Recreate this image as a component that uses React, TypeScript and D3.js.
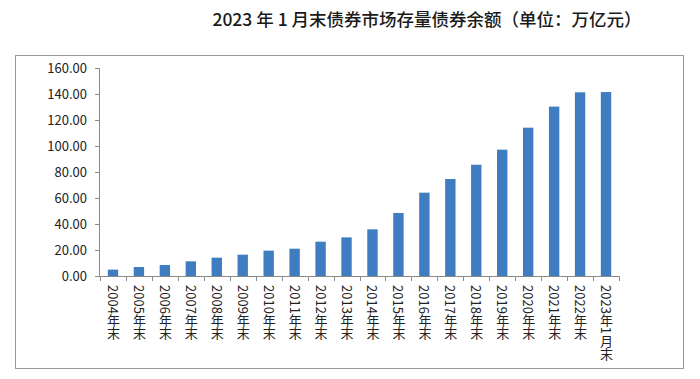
import React from "react";
import * as d3 from "d3";

const categories = ["2004年末","2005年末","2006年末","2007年末","2008年末","2009年末","2010年末","2011年末","2012年末","2013年末","2014年末","2015年末","2016年末","2017年末","2018年末","2019年末","2020年末","2021年末","2022年末","2023年1月末"];
const values = [4.9, 6.9, 8.5, 11.3, 14.1, 16.4, 19.5, 21.0, 26.4, 29.7, 35.9, 48.5, 64.1, 74.6, 85.6, 97.2, 114.1, 130.3, 141.3, 141.5];
const yTicks = [0, 20, 40, 60, 80, 100, 120, 140, 160];
const title = "2023 年 1 月末债券市场存量债券余额（单位：万亿元）";

export default function App() {
  const W = 700, H = 379;
  const x0 = 100, x1 = 619, y0 = 276, y1 = 68;
  const x = d3.scaleBand<string>().domain(categories).range([x0, x1]).paddingInner(0.6).paddingOuter(0.3);
  const xb = d3.scaleBand<string>().domain(categories).range([x0, x1]);
  const y = d3.scaleLinear().domain([0, 160]).range([y0, y1]);
  const axisColor = "#8a8a8a";
  const font = "'Noto Sans CJK SC', 'Noto Sans', sans-serif";
  return (
    <svg width={W} height={H} style={{ position: "absolute", left: 0, top: 0, background: "#fff" }}>
      <rect x={0} y={0} width={W} height={H} fill="#fff" />
      <text x={427} y={26} textAnchor="middle" fontSize={17.5} fontWeight={500} fontFamily={font} fill="#1a1a1a">{title}</text>
      <rect x={15.5} y={55.5} width={668} height={313} fill="none" stroke="#999" strokeWidth={1} />
      {categories.map((c, i) => (
        <rect key={c} x={x(c)} y={y(values[i])} width={x.bandwidth()} height={y0 - y(values[i])} fill="#3E7DC0" />
      ))}
      <line x1={x0 - 0.5} x2={x0 - 0.5} y1={y1} y2={y0} stroke={axisColor} />
      {yTicks.map(t => (
        <g key={t}>
          <line x1={x0 - 5} x2={x0} y1={Math.round(y(t)) + 0.5} y2={Math.round(y(t)) + 0.5} stroke={axisColor} />
          <text x={87} y={y(t)} dy="0.35em" textAnchor="end" fontSize={13} fontFamily={font} fill="#222">{t.toFixed(2)}</text>
        </g>
      ))}
      <line x1={x0} x2={x1} y1={y0 + 0.5} y2={y0 + 0.5} stroke={axisColor} />
      {categories.concat(["end"]).map((c, i) => {
        const px = i < categories.length ? (xb(c) as number) : x1;
        return <line key={"t" + i} x1={Math.round(px) + 0.5} x2={Math.round(px) + 0.5} y1={y0} y2={y0 + 5} stroke={axisColor} />;
      })}
      {categories.map(c => (
        <text key={"l" + c} x={(x(c) as number) + x.bandwidth() / 2 + 0.5} y={285} fontSize={13} fontFamily={font} fill="#222"
          style={{ writingMode: "vertical-rl", textOrientation: "mixed" } as any}>{c}</text>
      ))}
    </svg>
  );
}
